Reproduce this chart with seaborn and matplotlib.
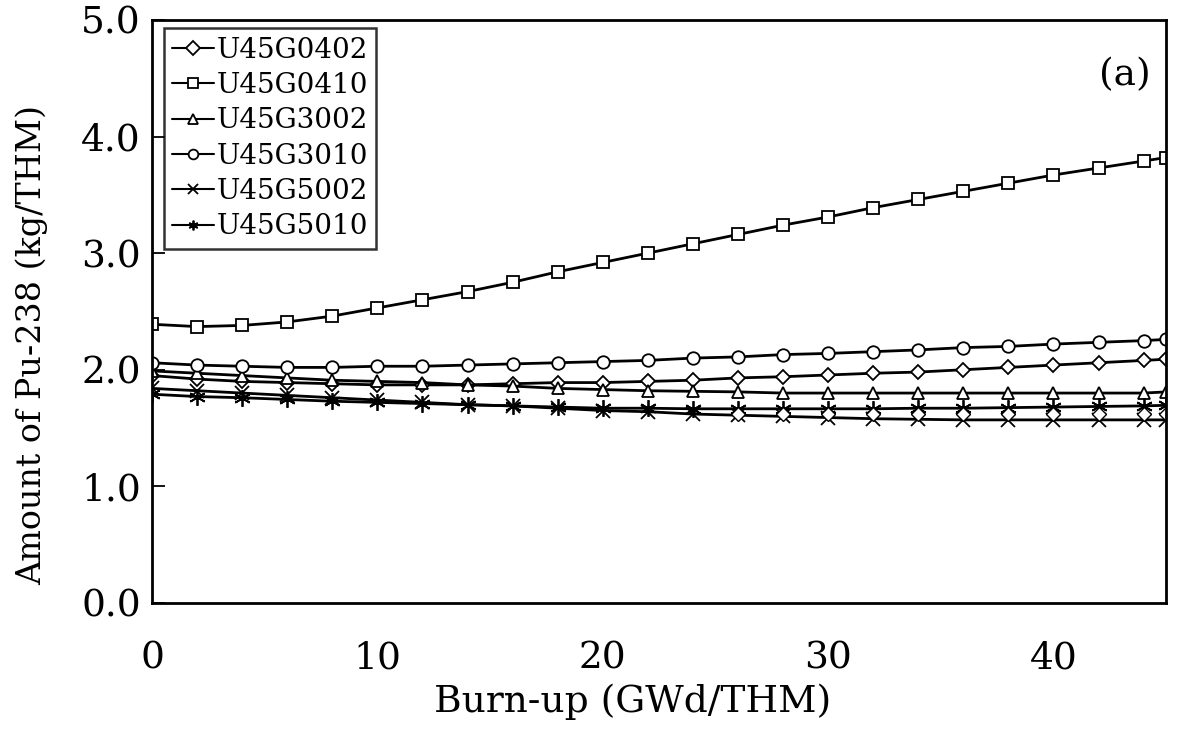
import numpy as np
import pandas as pd
import seaborn as sns
import matplotlib
matplotlib.use("Agg")
import matplotlib.pyplot as plt

# burn-up steps (GWd/THM)
burnup = [0, 2, 4, 6, 8, 10, 12, 14, 16, 18, 20, 22, 24, 26, 28, 30, 32, 34, 36, 38, 40, 42, 44, 45]

# Pu-238 amount (kg/THM)
u45g0402 = [1.95, 1.92, 1.90, 1.89, 1.88, 1.87, 1.87, 1.87, 1.88, 1.89, 1.89, 1.90,
            1.91, 1.93, 1.94, 1.955, 1.97, 1.98, 2.00, 2.02, 2.04, 2.06, 2.08, 2.09]
u45g0410 = [2.39, 2.37, 2.38, 2.41, 2.46, 2.53, 2.60, 2.67, 2.75, 2.84, 2.92, 3.00,
            3.08, 3.16, 3.24, 3.31, 3.39, 3.46, 3.53, 3.60, 3.67, 3.73, 3.79, 3.82]
u45g3002 = [1.99, 1.97, 1.95, 1.93, 1.91, 1.90, 1.89, 1.87, 1.86, 1.84, 1.83, 1.82,
            1.815, 1.81, 1.80, 1.80, 1.80, 1.80, 1.80, 1.80, 1.80, 1.80, 1.80, 1.81]
u45g3010 = [2.06, 2.04, 2.03, 2.02, 2.02, 2.03, 2.03, 2.04, 2.05, 2.06, 2.07, 2.08,
            2.10, 2.11, 2.13, 2.14, 2.155, 2.17, 2.19, 2.20, 2.22, 2.235, 2.25, 2.26]
u45g5002 = [1.84, 1.82, 1.80, 1.78, 1.76, 1.74, 1.72, 1.70, 1.69, 1.67, 1.65, 1.64,
            1.62, 1.61, 1.60, 1.59, 1.58, 1.575, 1.57, 1.57, 1.57, 1.57, 1.57, 1.57]
u45g5010 = [1.79, 1.77, 1.76, 1.745, 1.73, 1.72, 1.71, 1.70, 1.69, 1.68, 1.67, 1.67,
            1.665, 1.665, 1.665, 1.665, 1.665, 1.67, 1.67, 1.675, 1.68, 1.685, 1.69, 1.695]

# stray diamond markers (no line, not in legend) near the bottom group
stray_x = [26, 28, 30, 32, 34, 36, 38, 40, 42, 44, 45]
stray_y = [1.62, 1.62, 1.62, 1.62, 1.62, 1.62, 1.62, 1.62, 1.62, 1.62, 1.62]

series_names = ["U45G0402", "U45G0410", "U45G3002", "U45G3010", "U45G5002", "U45G5010"]
series_values = [u45g0402, u45g0410, u45g3002, u45g3010, u45g5002, u45g5010]
series_markers = ["D", "s", "^", "o", "x", (6, 2, 0)]
series_sizes = [7, 8.5, 8.5, 9, 10, 12]

sns.set_style("ticks")
plt.rcParams["font.family"] = ["DejaVu Serif"]
plt.rcParams["mathtext.fontset"] = "dejavuserif"
plt.rcParams["text.color"] = "black"
plt.rcParams["axes.labelcolor"] = "black"
plt.rcParams["xtick.color"] = "black"
plt.rcParams["ytick.color"] = "black"

fig = plt.figure(figsize=(11.82, 7.38), dpi=100)
ax = fig.add_axes([0.1286, 0.183, 0.858, 0.79])

for name, vals, mk, ms in zip(series_names, series_values, series_markers, series_sizes):
    sns.lineplot(x=burnup, y=vals, ax=ax, color="black", linewidth=2.0,
                 marker=mk, markersize=ms, markerfacecolor="white",
                 markeredgecolor="black", markeredgewidth=1.3, label=name)

sns.lineplot(x=stray_x, y=stray_y, ax=ax, color="black", linestyle="",
             marker="D", markersize=7, markerfacecolor="white",
             markeredgecolor="black", markeredgewidth=1.0, label="_nolegend_")

ax.set_xlim(0, 45)
ax.set_ylim(0, 5)
ax.set_xticks([0, 10, 20, 30, 40])
ax.set_yticks([0, 1, 2, 3, 4, 5])
ax.set_yticklabels(["0.0", "1.0", "2.0", "3.0", "4.0", "5.0"])
ax.tick_params(axis="both", direction="in", length=9, width=1.3, labelsize=27,
               colors="black")
ax.tick_params(axis="y", pad=8)
ax.tick_params(axis="x", length=0, pad=27)
for sp in ax.spines.values():
    sp.set_visible(True)
    sp.set_linewidth(2.0)
    sp.set_color("black")

ax.set_xlabel("Burn-up (GWd/THM)", fontsize=27)
ax.set_ylabel("Amount of Pu-238 (kg/THM)", fontsize=24)
ax.xaxis.set_label_coords(0.474, -0.138)
ax.yaxis.set_label_coords(-0.102, 0.4425)
ax.text(0.985, 0.905, "(a)", transform=ax.transAxes, ha="right", va="center", fontsize=27)

leg = ax.legend(loc="upper left", bbox_to_anchor=(0.006, 0.995), fontsize=20,
                frameon=True, fancybox=False, handlelength=1.5, handletextpad=0.1,
                borderpad=0.3, labelspacing=0.3, borderaxespad=0.2)
leg.get_frame().set_edgecolor("black")
leg.get_frame().set_linewidth(1.8)
for h in leg.legend_handles:
    h.set_markersize(7)
    h.set_linewidth(1.5)

fig.savefig("out.png", dpi=100, facecolor="white")
